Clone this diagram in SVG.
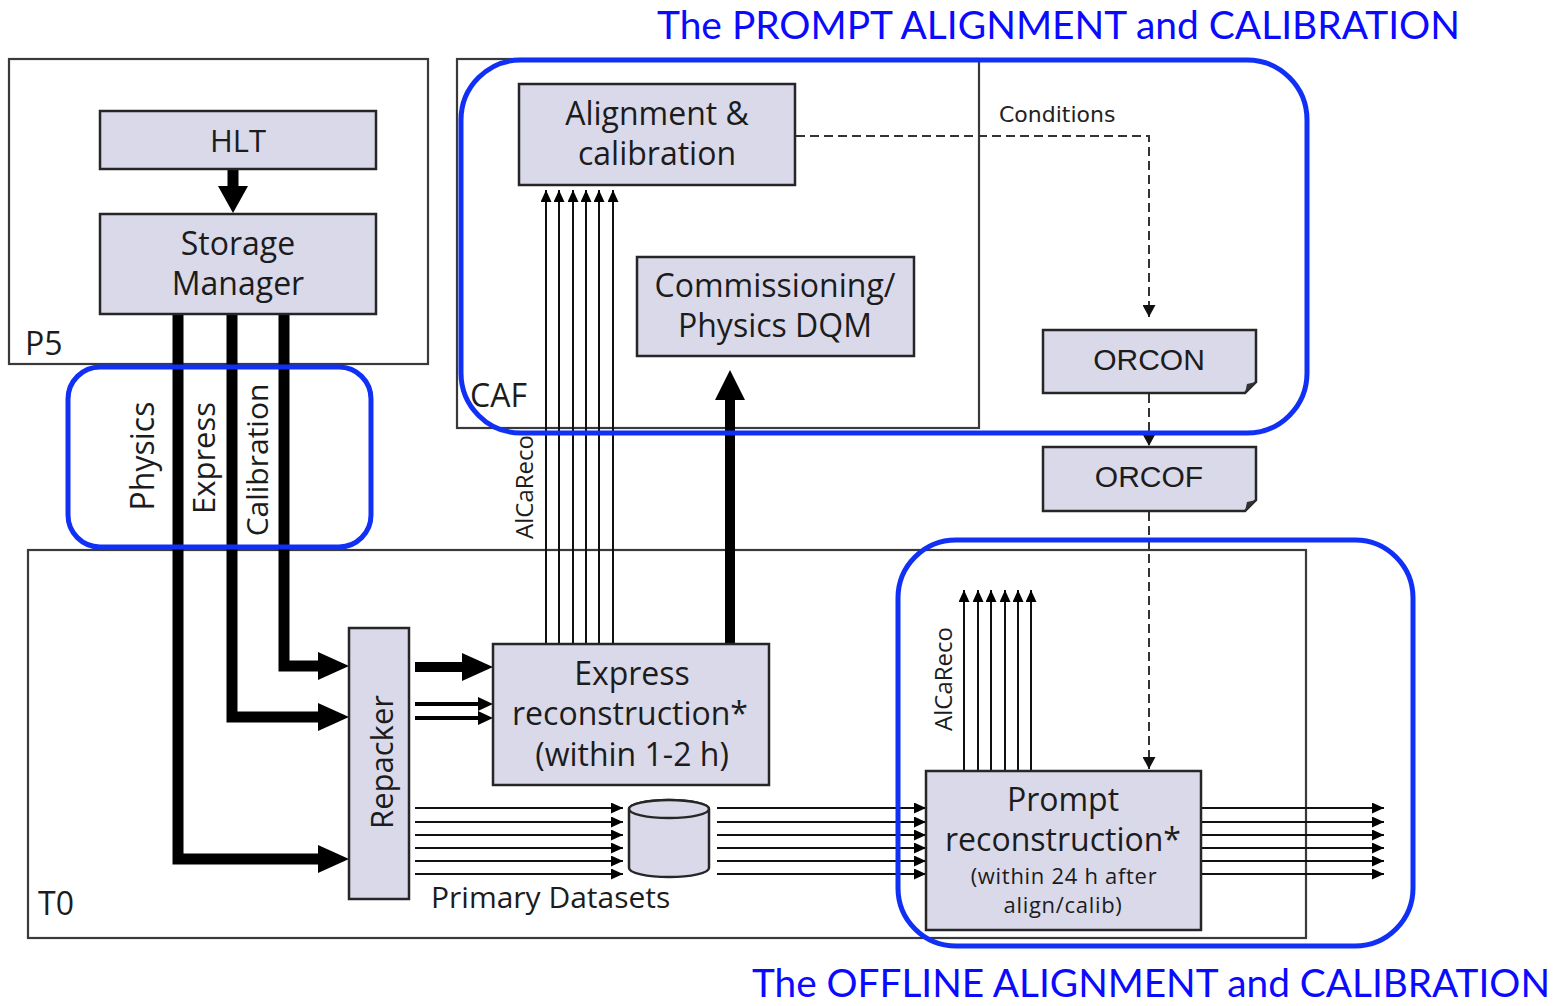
<svg xmlns="http://www.w3.org/2000/svg" width="1565" height="1006" viewBox="0 0 1565 1006">
  <style>
    .frame { fill: none; stroke: #3a3a3a; stroke-width: 2.2; }
    .box { fill: #d9d9ea; stroke: #262626; stroke-width: 2.5; }
    .lbl { font-family: "Open Sans", "Noto Sans", sans-serif; font-size: 32px; fill: #1c1c1c; }
    .mid { text-anchor: middle; }
    .small { font-size: 24px; }
    .note { font-size: 22px; letter-spacing: 0.7px; }
    .mono { font-family: "Liberation Sans", Arial, sans-serif; font-size: 30px; fill: #1c1c1c; text-anchor: middle; }
    .cond { font-family: "DejaVu Sans", Verdana, sans-serif; font-size: 22px; fill: #222; }
    .thick { fill: none; stroke: #000; stroke-width: 11; stroke-linejoin: miter; }
    .head { fill: #000; }
    .thin { fill: none; stroke: #111; stroke-width: 2; marker-end: url(#tip); }
    .dash { fill: none; stroke: #333; stroke-width: 2; stroke-dasharray: 9 5; marker-end: url(#dtip); }
    .hl { fill: none; stroke: #1030f5; stroke-width: 5; }
    .title { font-family: Lato, "Open Sans", sans-serif; font-size: 38px; fill: #0a0aff; }
  </style>
  <defs>
    <marker id="tip" markerUnits="userSpaceOnUse" markerWidth="13" markerHeight="11" refX="12" refY="5.5" orient="auto">
      <path d="M0,0 L12,5.5 L0,11 Z" fill="#000"/>
    </marker>
    <marker id="dtip" markerUnits="userSpaceOnUse" markerWidth="13" markerHeight="13" refX="12" refY="6.5" orient="auto">
      <path d="M0,0 L12,6.5 L0,13 Z" fill="#111"/>
    </marker>
  </defs>

  <rect width="1565" height="1006" fill="#fff"/>

  <!-- site frames -->
  <g id="p5">
    <rect class="frame" x="9" y="59" width="419" height="305"/>
    <text class="lbl" x="25" y="355">P5</text>
  </g>
  <g id="caf">
    <rect class="frame" x="457" y="59" width="522" height="369"/>
    <text class="lbl" x="470" y="407">CAF</text>
  </g>
  <g id="t0">
    <rect class="frame" x="28" y="550" width="1278" height="388"/>
    <text class="lbl" x="38" y="915">T0</text>
  </g>

  <!-- connectors -->
  <g id="connectors">
    <!-- HLT to Storage Manager -->
    <line class="thick" x1="233" y1="169" x2="233" y2="188"/>
    <polygon class="head" points="218,186 248,186 233,213"/>

    <!-- streams to Repacker -->
    <path class="thick" d="M284,314 V666 H321"/>
    <polygon class="head" points="318,652 349,666 318,680"/>
    <path class="thick" d="M232,314 V717 H321"/>
    <polygon class="head" points="318,703 349,717 318,731"/>
    <path class="thick" d="M178,314 V859 H321"/>
    <polygon class="head" points="318,845 349,859 318,873"/>

    <!-- Repacker to Express reconstruction -->
    <line class="thick" x1="415" y1="667" x2="464" y2="667" style="stroke-width:10"/>
    <polygon class="head" points="462,653 493,667 462,681"/>
    <line x1="415" y1="704" x2="482" y2="704" stroke="#000" stroke-width="4"/>
    <polygon class="head" points="478,697 493,704 478,711"/>
    <line x1="415" y1="718" x2="482" y2="718" stroke="#000" stroke-width="4"/>
    <polygon class="head" points="478,711 493,718 478,725"/>

    <!-- Express reconstruction to DQM -->
    <line class="thick" x1="730" y1="643" x2="730" y2="398" style="stroke-width:10"/>
    <polygon class="head" points="715,400 745,400 730,370"/>

    <!-- AlCaReco from Express reconstruction -->
    <line class="thin" x1="546" y1="643" x2="546" y2="190"/>
    <line class="thin" x1="559" y1="643" x2="559" y2="190"/>
    <line class="thin" x1="573" y1="643" x2="573" y2="190"/>
    <line class="thin" x1="586" y1="643" x2="586" y2="190"/>
    <line class="thin" x1="599" y1="643" x2="599" y2="190"/>
    <line class="thin" x1="613" y1="643" x2="613" y2="190"/>
    <text class="lbl small mid" transform="translate(533,487) rotate(-90)">AlCaReco</text>

    <!-- Repacker to Primary Datasets -->
    <line class="thin" x1="415" y1="808" x2="623" y2="808"/>
    <line class="thin" x1="415" y1="822" x2="623" y2="822"/>
    <line class="thin" x1="415" y1="835" x2="623" y2="835"/>
    <line class="thin" x1="415" y1="848" x2="623" y2="848"/>
    <line class="thin" x1="415" y1="861" x2="623" y2="861"/>
    <line class="thin" x1="415" y1="874" x2="623" y2="874"/>

    <!-- Primary Datasets to Prompt reconstruction -->
    <line class="thin" x1="717" y1="808" x2="926" y2="808"/>
    <line class="thin" x1="717" y1="822" x2="926" y2="822"/>
    <line class="thin" x1="717" y1="835" x2="926" y2="835"/>
    <line class="thin" x1="717" y1="848" x2="926" y2="848"/>
    <line class="thin" x1="717" y1="861" x2="926" y2="861"/>
    <line class="thin" x1="717" y1="874" x2="926" y2="874"/>

    <!-- Prompt reconstruction outputs -->
    <line class="thin" x1="1201" y1="808" x2="1384" y2="808"/>
    <line class="thin" x1="1201" y1="822" x2="1384" y2="822"/>
    <line class="thin" x1="1201" y1="835" x2="1384" y2="835"/>
    <line class="thin" x1="1201" y1="848" x2="1384" y2="848"/>
    <line class="thin" x1="1201" y1="861" x2="1384" y2="861"/>
    <line class="thin" x1="1201" y1="874" x2="1384" y2="874"/>

    <!-- AlCaReco from Prompt reconstruction -->
    <line class="thin" x1="964" y1="771" x2="964" y2="590"/>
    <line class="thin" x1="978" y1="771" x2="978" y2="590"/>
    <line class="thin" x1="991" y1="771" x2="991" y2="590"/>
    <line class="thin" x1="1005" y1="771" x2="1005" y2="590"/>
    <line class="thin" x1="1018" y1="771" x2="1018" y2="590"/>
    <line class="thin" x1="1031" y1="771" x2="1031" y2="590"/>
    <text class="lbl small mid" transform="translate(952,679) rotate(-90)">AlCaReco</text>

    <!-- conditions flow -->
    <path class="dash" d="M796,136 H1149 V317"/>
    <text class="cond" x="999" y="122">Conditions</text>
    <path class="dash" d="M1149,394 V446"/>
    <path class="dash" d="M1149,512 V769"/>

    <!-- stream labels -->
    <text class="lbl mid" transform="translate(154,456) rotate(-90)">Physics</text>
    <text class="lbl mid" style="font-size:31px" transform="translate(215,458) rotate(-90)">Express</text>
    <text class="lbl mid" style="font-size:30px" transform="translate(268,460) rotate(-90)">Calibration</text>
  </g>

  <!-- nodes -->
  <g id="hlt">
    <rect class="box" x="100" y="111" width="276" height="58"/>
    <text class="lbl mid" x="238" y="152" style="font-size:31px">HLT</text>
  </g>
  <g id="storage-manager">
    <rect class="box" x="100" y="214" width="276" height="100"/>
    <text class="lbl mid" x="238" y="255">Storage</text>
    <text class="lbl mid" x="238" y="295">Manager</text>
  </g>
  <g id="alignment-calibration">
    <rect class="box" x="519" y="84" width="276" height="101"/>
    <text class="lbl mid" x="657" y="125">Alignment &amp;</text>
    <text class="lbl mid" x="657" y="165">calibration</text>
  </g>
  <g id="dqm">
    <rect class="box" x="637" y="257" width="277" height="99"/>
    <text class="lbl mid" x="775" y="297">Commissioning/</text>
    <text class="lbl mid" x="775" y="337">Physics DQM</text>
  </g>
  <g id="orcon">
    <polygon class="box" points="1043,330 1256,330 1256,382 1245,393 1043,393"/>
    <polygon points="1245,393 1256,382 1247,384" fill="#333"/>
    <text class="mono" x="1149" y="370">ORCON</text>
  </g>
  <g id="orcof">
    <polygon class="box" points="1043,447 1256,447 1256,500 1245,511 1043,511"/>
    <polygon points="1245,511 1256,500 1247,502" fill="#333"/>
    <text class="mono" x="1149" y="487">ORCOF</text>
  </g>
  <g id="repacker">
    <rect class="box" x="349" y="628" width="60" height="271"/>
    <text class="lbl mid" style="font-size:31px" transform="translate(393,762) rotate(-90)">Repacker</text>
  </g>
  <g id="express-reco">
    <rect class="box" x="493" y="644" width="276" height="141"/>
    <text class="lbl mid" x="632" y="685">Express</text>
    <text class="lbl mid" x="630" y="725">reconstruction*</text>
    <text class="lbl mid" x="632" y="766">(within 1-2 h)</text>
  </g>
  <g id="primary-datasets">
    <path class="box" d="M629,809 V868 A40,9 0 0 0 709,868 V809 A40,9 0 0 0 629,809 Z"/>
    <ellipse cx="669" cy="809" rx="40" ry="9" fill="#d9d9ea" stroke="#262626" stroke-width="2.5"/>
    <text class="lbl" style="font-size:30px" x="431" y="908">Primary Datasets</text>
  </g>
  <g id="prompt-reco">
    <rect class="box" x="926" y="771" width="275" height="159"/>
    <text class="lbl mid" x="1063" y="811">Prompt</text>
    <text class="lbl mid" x="1063" y="851">reconstruction*</text>
    <text class="lbl mid note" x="1064" y="884">(within 24 h after</text>
    <text class="lbl mid note" x="1063" y="913">align/calib)</text>
  </g>

  <!-- highlighted scopes -->
  <g id="prompt-scope">
    <rect class="hl" x="461" y="60" width="846" height="373" rx="60" ry="60"/>
    <text class="title" x="657" y="39" textLength="803" lengthAdjust="spacingAndGlyphs">The PROMPT ALIGNMENT and CALIBRATION</text>
  </g>
  <g id="stream-scope">
    <rect class="hl" x="68" y="367" width="303" height="180" rx="32" ry="32"/>
  </g>
  <g id="offline-scope">
    <rect class="hl" x="898" y="540" width="515" height="406" rx="58" ry="58"/>
    <text class="title" x="752" y="997" textLength="798" lengthAdjust="spacingAndGlyphs">The OFFLINE ALIGNMENT and CALIBRATION</text>
  </g>
</svg>
